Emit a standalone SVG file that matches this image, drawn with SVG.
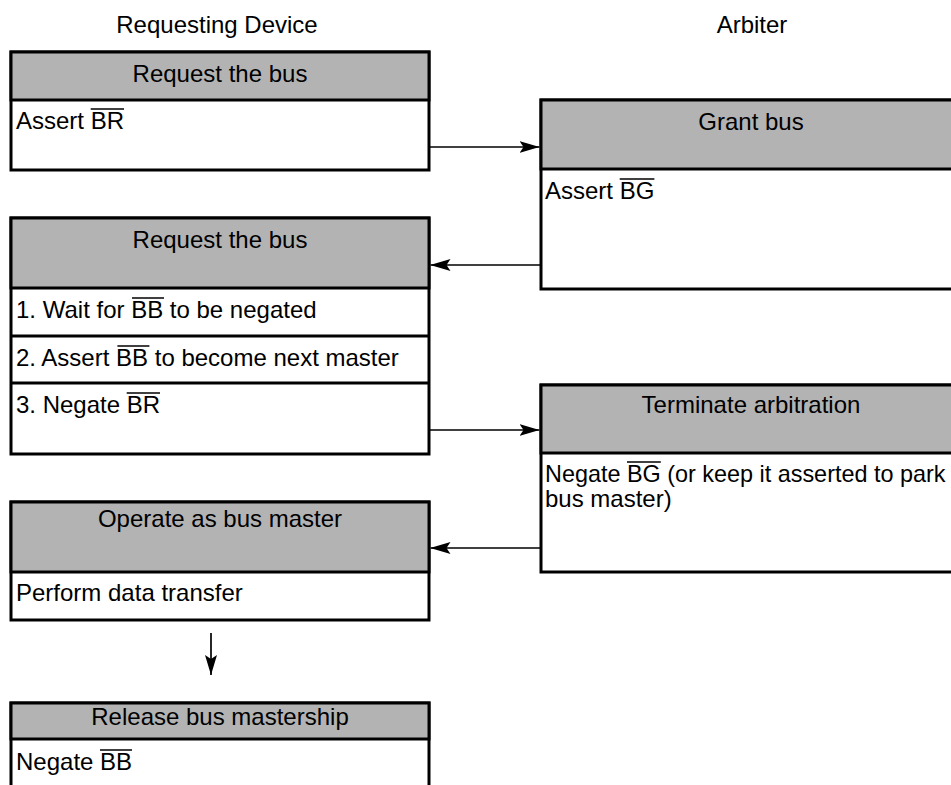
<svg xmlns="http://www.w3.org/2000/svg" width="951" height="785" viewBox="0 0 951 785">
<style>
text{font-family:"Liberation Sans",Arial,Helvetica,sans-serif;font-size:24px;fill:#000}
.c{text-anchor:middle}
.body{fill:#fff;stroke:#000;stroke-width:3}
.head{fill:#b3b3b3;stroke:#000;stroke-width:3}
.div{stroke:#000;stroke-width:3}
.ov{stroke:#000;stroke-width:1.5}
.conn{stroke:#000;stroke-width:1.7;fill:none;marker-end:url(#ah)}
</style>
<defs>
<marker id="ah" markerUnits="userSpaceOnUse" markerWidth="20" markerHeight="12" refX="20" refY="6" orient="auto">
<path d="M0,0 L20,6 L0,12 L4,6 Z" fill="#000"/>
</marker>
</defs>
<rect width="951" height="785" fill="#fff"/>
<text class="c" x="217" y="33">Requesting Device</text>
<text class="c" x="752" y="33">Arbiter</text>

<g id="req1">
<rect class="body" x="11" y="52" width="418" height="118"/>
<rect class="head" x="11" y="52" width="418" height="48"/>
<text class="c" x="220" y="82">Request the bus</text>
<text x="16" y="129">Assert BR</text>
<line class="ov" x1="90.7" y1="109" x2="124" y2="109"/>
</g>

<g id="grant">
<rect class="body" x="541" y="100" width="420" height="189"/>
<rect class="head" x="541" y="100" width="420" height="69"/>
<text class="c" x="751" y="130">Grant bus</text>
<text x="545" y="199">Assert BG</text>
<line class="ov" x1="619.7" y1="179" x2="654.4" y2="179"/>
</g>

<g id="req2">
<rect class="body" x="11" y="218" width="418" height="236"/>
<rect class="head" x="11" y="218" width="418" height="70"/>
<line class="div" x1="11" y1="336" x2="429" y2="336"/>
<line class="div" x1="11" y1="383" x2="429" y2="383"/>
<text class="c" x="220" y="248">Request the bus</text>
<text x="16" y="318">1. Wait for BB to be negated</text>
<line class="ov" x1="132" y1="298" x2="164" y2="298"/>
<text x="16" y="366">2. Assert BB to become next master</text>
<line class="ov" x1="117.4" y1="346" x2="149.4" y2="346"/>
<text x="16" y="413">3. Negate BR</text>
<line class="ov" x1="126.7" y1="393" x2="160" y2="393"/>
</g>

<g id="terminate">
<rect class="body" x="541" y="385" width="420" height="187"/>
<rect class="head" x="541" y="385" width="420" height="68"/>
<text class="c" x="751" y="413">Terminate arbitration</text>
<text x="545" y="482" style="font-size:23.4px">Negate BG (or keep it asserted to park</text>
<line class="ov" x1="627" y1="462" x2="660.8" y2="462"/>
<text x="545" y="507">bus master)</text>
</g>

<g id="operate">
<rect class="body" x="11" y="502" width="418" height="118"/>
<rect class="head" x="11" y="502" width="418" height="70"/>
<text class="c" x="220" y="527">Operate as bus master</text>
<text x="16" y="601">Perform data transfer</text>
</g>

<g id="release">
<rect class="body" x="11" y="703" width="418" height="120"/>
<rect class="head" x="11" y="703" width="418" height="36"/>
<text class="c" x="220" y="725">Release bus mastership</text>
<text x="16" y="770">Negate BB</text>
<line class="ov" x1="100" y1="750" x2="132" y2="750"/>
</g>

<g id="connectors">
<path class="conn" d="M429,147 H539.5"/>
<path class="conn" d="M541,265 H430.5"/>
<path class="conn" d="M429,430 H539.5"/>
<path class="conn" d="M541,548 H430.5"/>
<path class="conn" d="M211,633 V675"/>
</g>
</svg>
